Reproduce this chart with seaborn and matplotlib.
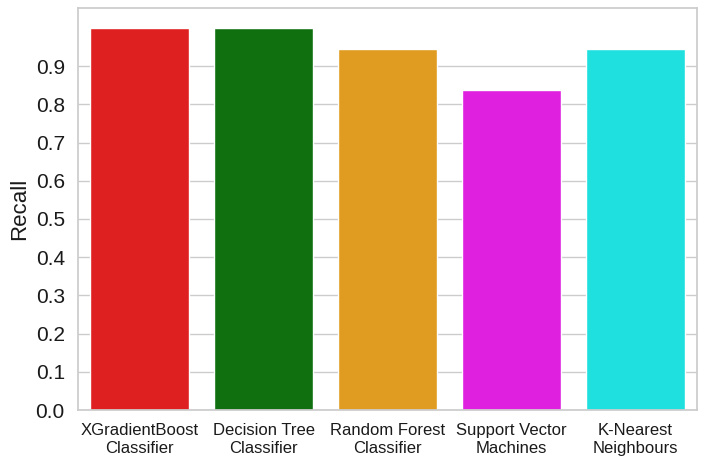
import matplotlib
matplotlib.use("Agg")
import matplotlib.pyplot as plt
import seaborn as sns
import numpy as np
import pandas as pd

models = ["XGradientBoost\nClassifier", "Decision Tree\nClassifier", "Random Forest\nClassifier",
          "Support Vector\nMachines", "K-Nearest\nNeighbours"]
recall = [1.0, 1.0, 0.944, 0.838, 0.944]
colors = ["red", "green", "orange", "magenta", "cyan"]
yticks = [0.0, 0.1, 0.2, 0.3, 0.4, 0.5, 0.6, 0.7, 0.8, 0.9]

sns.set_theme(style="whitegrid")
plt.rcParams["font.family"] = ["Liberation Sans", "DejaVu Sans"]

df = pd.DataFrame({"Model": models, "Recall": recall})
fig = plt.figure(figsize=(7.07, 4.61), dpi=100)
ax = fig.add_axes([78/707, 1 - 410/461, (697-78)/707, (410-8)/461])
sns.barplot(data=df, x="Model", y="Recall", hue="Model", palette=colors, legend=False, ax=ax, saturation=0.75)
ax.set_ylim(0, 1.052)
ax.set_yticks(yticks)
ax.set_yticklabels([f"{t:.1f}" for t in yticks], fontsize=15, color="#1a1a1a")
ax.tick_params(axis="x", labelsize=12, labelcolor="#1a1a1a")
ax.set_xlabel("")
ax.set_ylabel("Recall", fontsize=16, color="#1a1a1a")
for s in ax.spines.values():
    s.set_color("#cccccc")
fig.savefig("out.png", dpi=100)
